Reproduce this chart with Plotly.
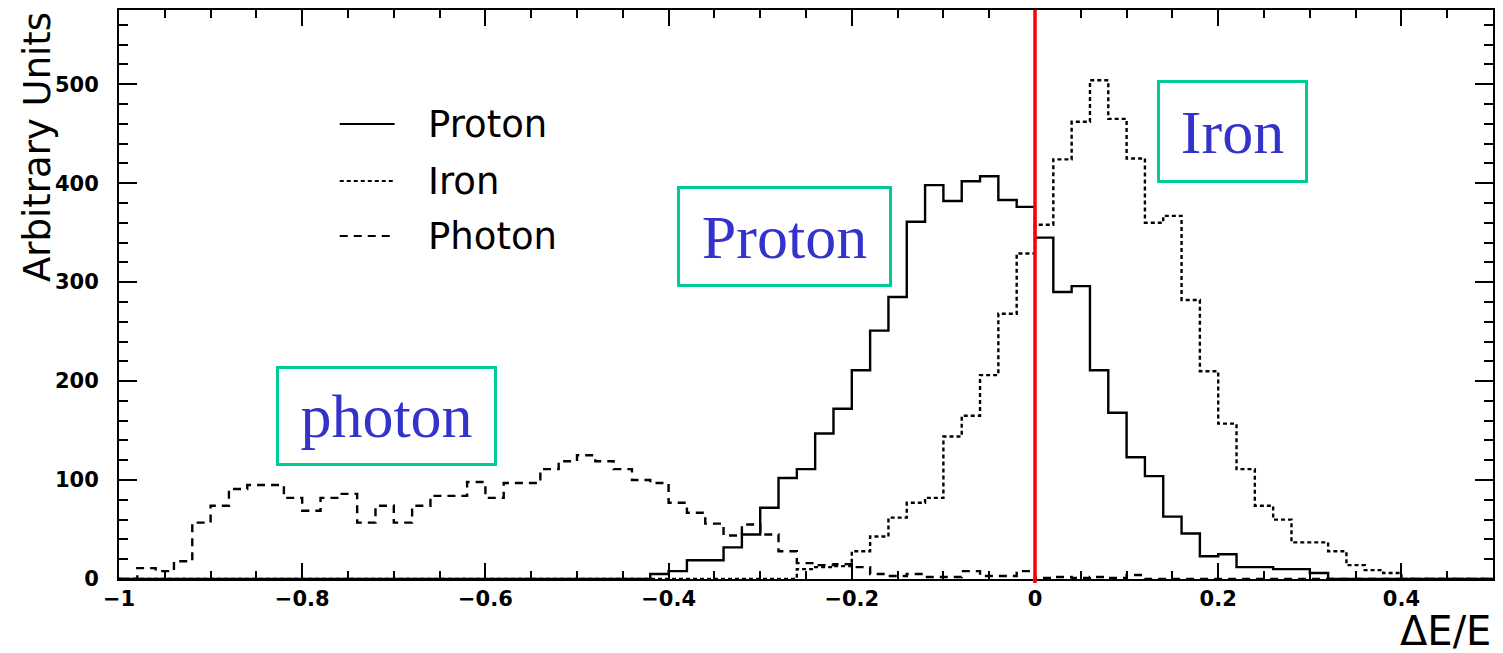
import plotly.graph_objects as go

# ---- histogram binning: 75 bins of width 0.02 on [-1, 0.5] ----
bin_edges = [
    -1.00, -0.98, -0.96, -0.94, -0.92, -0.90, -0.88, -0.86, -0.84, -0.82,
    -0.80, -0.78, -0.76, -0.74, -0.72, -0.70, -0.68, -0.66, -0.64, -0.62,
    -0.60, -0.58, -0.56, -0.54, -0.52, -0.50, -0.48, -0.46, -0.44, -0.42,
    -0.40, -0.38, -0.36, -0.34, -0.32, -0.30, -0.28, -0.26, -0.24, -0.22,
    -0.20, -0.18, -0.16, -0.14, -0.12, -0.10, -0.08, -0.06, -0.04, -0.02,
    0.00, 0.02, 0.04, 0.06, 0.08, 0.10, 0.12, 0.14, 0.16, 0.18,
    0.20, 0.22, 0.24, 0.26, 0.28, 0.30, 0.32, 0.34, 0.36, 0.38,
    0.40, 0.42, 0.44, 0.46, 0.48, 0.50,
]

# ---- bin contents (arbitrary units), one value per bin ----
proton_counts = [
    0, 0, 0, 0, 0, 0, 0, 0, 0, 0,
    0, 0, 0, 0, 0, 0, 0, 0, 0, 0,
    0, 0, 0, 0, 0, 0, 0, 0, 0, 5,
    8, 19, 19, 32, 45, 72, 102, 111, 147, 172,
    211, 251, 285, 361, 398, 382, 402, 407, 383, 376,
    345, 290, 296, 211, 168, 123, 104, 63, 46, 23,
    25, 12, 12, 10, 10, 6, 0, 0, 0, 0,
    0, 0, 0, 0, 0,
]

iron_counts = [
    0, 0, 0, 0, 0, 0, 0, 0, 0, 0,
    0, 0, 0, 0, 0, 0, 0, 0, 0, 0,
    0, 0, 0, 0, 0, 0, 0, 0, 0, 0,
    0, 0, 0, 0, 0, 0, 0, 10, 12, 13,
    28, 43, 62, 77, 82, 144, 165, 206, 268, 329,
    358, 424, 462, 504, 465, 425, 360, 367, 282, 210,
    157, 111, 74, 60, 37, 37, 28, 14, 9, 6,
    0, 0, 0, 0, 0,
]

photon_counts = [
    0, 11, 8, 18, 57, 74, 91, 95, 95, 82,
    69, 82, 86, 57, 74, 57, 74, 84, 84, 98,
    82, 97, 97, 111, 119, 125, 119, 111, 100, 97,
    77, 67, 56, 44, 55, 45, 28, 16, 14, 15,
    12, 5, 3, 5, 2, 2, 8, 3, 3, 8,
    1, 2, 1, 2, 1, 4, 0, 0, 0, 0,
    0, 0, 0, 0, 0, 0, 0, 0, 0, 0,
    0, 0, 0, 0, 0,
]

series_names = ["Proton", "Iron", "Photon"]
series_counts = [proton_counts, iron_counts, photon_counts]
series_dash = ["solid", "4px,3px", "8px,6px"]

# ---- axis ticks ----
x_tick_vals = [-1.0, -0.8, -0.6, -0.4, -0.2, 0.0, 0.2, 0.4]
x_tick_text = ["\u22121", "\u22120.8", "\u22120.6", "\u22120.4", "\u22120.2", "0", "0.2", "0.4"]
y_tick_vals = [0, 100, 200, 300, 400, 500]
y_tick_text = ["0", "100", "200", "300", "400", "500"]

# ---- labelled boxes placed in data coordinates ----
box_labels = ["Proton", "Iron", "photon"]
box_x = [-0.2737, 0.2154, -0.7083]
box_y = [346.1, 452.2, 164.7]
box_w = [209, 145, 215]
box_h = [95, 97, 94]

# ---- legend rows (data coordinates) ----
legend_y = [459.8, 402.2, 346.6]
legend_line_x = [-0.759, -0.699]
legend_text_x = -0.665

fig = go.Figure()

for name, counts, dash in zip(series_names, series_counts, series_dash):
    fig.add_trace(go.Scatter(
        x=bin_edges,
        y=counts + [counts[-1]],
        mode="lines",
        name=name,
        line=dict(shape="hv", color="black", width=2.4, dash=dash),
        showlegend=False,
        hoverinfo="skip",
    ))

axis_font = dict(family="DejaVu Sans", size=21, color="black", weight="bold")

fig.update_xaxes(
    range=[-1.0, 0.5],
    tickmode="array", tickvals=x_tick_vals, ticktext=x_tick_text,
    ticks="inside", ticklen=16, tickwidth=2, tickcolor="black",
    showline=True, linecolor="black", linewidth=2, mirror="ticks",
    showgrid=False, zeroline=False, tickfont=axis_font,
    minor=dict(tickmode="linear", tick0=-1.0, dtick=0.05, ticks="inside",
               ticklen=8, tickwidth=2, tickcolor="black", showgrid=False),
)
fig.update_yaxes(
    range=[0, 575],
    tickmode="array", tickvals=y_tick_vals, ticktext=y_tick_text,
    ticks="inside", ticklen=18, tickwidth=2, tickcolor="black",
    showline=True, linecolor="black", linewidth=2, mirror="ticks",
    showgrid=False, zeroline=False, tickfont=axis_font,
    ticklabelstandoff=14,
    minor=dict(tickmode="linear", tick0=0, dtick=20, ticks="inside",
               ticklen=9, tickwidth=2, tickcolor="black", showgrid=False),
)

shapes = [
    # vertical reference line at dE/E = 0
    dict(type="line", xref="x", yref="paper", x0=0, x1=0, y0=-0.007, y1=1.0,
         line=dict(color="#ff0000", width=3.5), layer="above"),
]
annotations = []

for ly, name, dash in zip(legend_y, series_names, series_dash):
    shapes.append(dict(type="line", xref="x", yref="y",
                       x0=legend_line_x[0], x1=legend_line_x[1], y0=ly, y1=ly,
                       line=dict(color="black", width=2, dash=dash)))
    annotations.append(dict(xref="x", yref="y", x=legend_text_x, y=ly,
                            xanchor="left", yanchor="middle", text=name,
                            showarrow=False,
                            font=dict(family="DejaVu Sans", size=37, color="black")))

for label, bx, by, bw, bh in zip(box_labels, box_x, box_y, box_w, box_h):
    annotations.append(dict(xref="x", yref="y", x=bx, y=by,
                            xanchor="center", yanchor="middle", text=label,
                            showarrow=False, width=bw, height=bh,
                            bgcolor="white", bordercolor="#00cc99",
                            borderwidth=3, borderpad=0,
                            font=dict(family="Liberation Serif", size=62,
                                      color="#3333cc")))

# axis titles
annotations.append(dict(xref="paper", yref="paper", x=1.0, y=-0.0914,
                        xanchor="right", yanchor="middle", text="\u0394E/E",
                        showarrow=False,
                        font=dict(family="DejaVu Sans", size=40, color="black")))
annotations.append(dict(xref="paper", yref="paper", x=0.0, y=1.0,
                        xshift=-82, xanchor="center", yanchor="top",
                        text="Arbitrary Units", textangle=-90, showarrow=False,
                        font=dict(family="DejaVu Sans", size=37, color="black")))

fig.update_layout(
    width=1503, height=653,
    margin=dict(l=119, r=8, t=10, b=74),
    paper_bgcolor="white", plot_bgcolor="white",
    showlegend=False,
    shapes=shapes,
    annotations=annotations,
)

fig.write_html("out.html")
